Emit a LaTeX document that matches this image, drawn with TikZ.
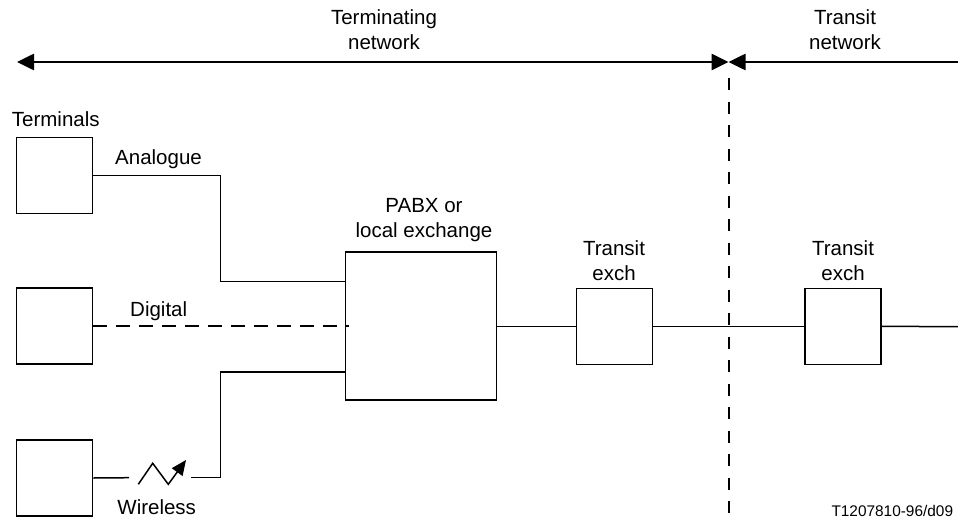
\documentclass[tikz,border=0pt]{standalone}
\usepackage{fontspec}
\setmainfont{Liberation Sans}
\usetikzlibrary{arrows.meta}

\tikzset{
  box/.style={draw, line width=1.5pt, minimum width=76pt, minimum height=76pt, inner sep=0pt},
  lbl/.style={inner sep=0pt, font=\fontsize{20.5}{24.5}\selectfont, align=center},
  wire/.style={line width=1.5pt},
}

\begin{document}
\begin{tikzpicture}[x=1pt, y=-1pt]
    \useasboundingbox (0,0) rectangle (958,522);

    % network split
    \coordinate (lend) at (17,62);
    \coordinate (mid) at (728.5,62);
    \coordinate (rend) at (958,62);
    \draw[line width=2.6pt, {Triangle[length=17pt,width=16pt]}-{Triangle[length=17pt,width=16pt]}] (lend) -- (mid);
    \draw[line width=2.6pt, {Triangle[length=17pt,width=16pt]}-] (mid) -- (rend);
    \coordinate (cuttop) at (729.3,78);
    \coordinate (cutbot) at (729.3,522);
    \draw[line width=2pt, dash pattern=on 12pt off 11.5pt] (cuttop) -- (cutbot);

    \node[lbl, anchor=base] (termnet) at (384,49.3) {Terminating\\network};
    \node[lbl, anchor=base] (transnet) at (845,49.3) {Transit\\network};

    % terminals
    \node[lbl, anchor=base west] (termlbl) at (11.7,126.7) {Terminals};
    \node[box] (t1) at (54.7,175.3) {};
    \node[box] (t2) at (54.7,325.8) {};
    \node[box] (t3) at (54.7,478) {};

    % exchanges
    \node[box, minimum width=151pt, minimum height=148pt] (pabx) at (421,326) {};
    \node[box] (tx1) at (614.5,326.3) {};
    \node[box] (tx2) at (843,326.3) {};
    \node[lbl, anchor=base] (pabxlbl) at (424,237) {PABX or\\local exchange};
    \node[lbl, anchor=base] (tx1lbl) at (614,280) {Transit\\exch};
    \node[lbl, anchor=base] (tx2lbl) at (843,280) {Transit\\exch};

    % access lines
    \coordinate (abend) at (220.7,281.7);
    \draw[wire] (t1.east) -| (abend) -- (pabx.west |- abend);
    \node[lbl, anchor=base west] (analbl) at (115,164.3) {Analogue};

    \draw[line width=2.4pt, dash pattern=on 14pt off 9pt] (t2.east) -- ([xshift=4pt]pabx.west |- t2.east);
    \node[lbl, anchor=base west] (diglbl) at (130,316.7) {Digital};

    \coordinate (wl) at (129,477.7);
    \coordinate (wr) at (191,477.7);
    \coordinate (wbend) at (220.7,372);
    \draw[wire] (t3.east) -- (wl);
    \draw[wire] (wr) -| (wbend) -- (pabx.west |- wbend);
    \draw[wire, -{Triangle[length=15pt,width=13pt]}] (138.3,484.3) -- (152.7,463.3) -- (168.3,484.3) -- (186,460);
    \node[lbl, anchor=base] (wirelbl) at (156.7,514) {Wireless};

    % trunk
    \coordinate (trunkend) at (958,326.7);
    \draw[wire] (pabx.east |- tx1.west) -- (tx1.west);
    \draw[wire] (tx1.east) -- (tx2.west);
    \draw[wire] (tx2.east) -- (trunkend);

    \node[inner sep=0pt, anchor=base east, font=\fontsize{15.4}{18}\selectfont] (ref) at (953.3,516) {T1207810-96/d09};
\end{tikzpicture}
\end{document}
